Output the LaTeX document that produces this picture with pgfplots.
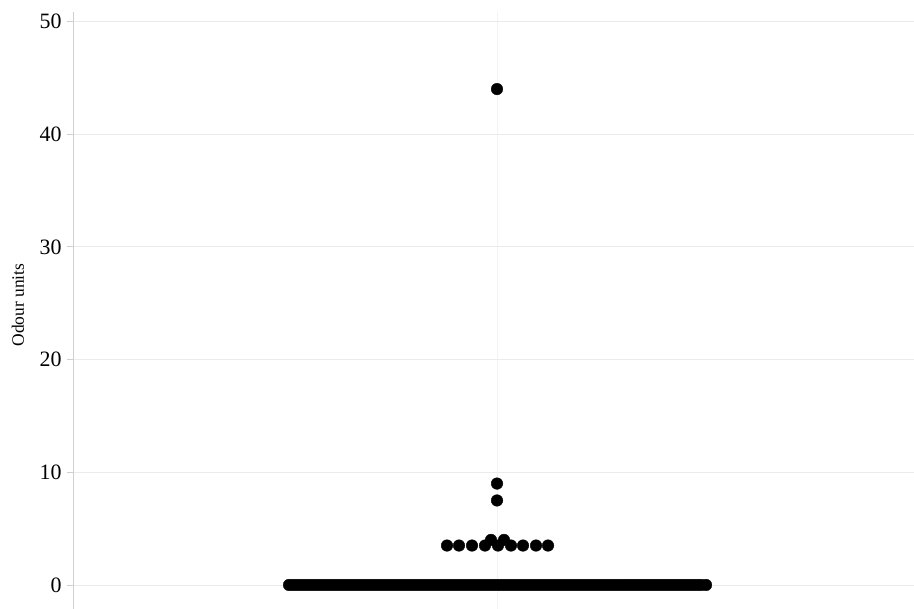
\documentclass[border=0pt]{standalone}
\usepackage{fontspec}
\setmainfont{Liberation Serif}
\usepackage{pgfplots}
\pgfplotsset{compat=1.18}
\definecolor{gridc}{HTML}{EBEBEB}
\definecolor{vgridc}{HTML}{F3F3F3}
\definecolor{axc}{HTML}{D0D0D0}
\begin{document}
\begin{tikzpicture}[x=1bp,y=1bp]
\useasboundingbox (-73,0) rectangle (841,609);
\begin{axis}[
  at={(0,0)}, anchor=south west,
  scale only axis,
  width=841bp, height=597bp,
  xmin=-424, xmax=417,
  ymin=-2.13, ymax=50.84,
  axis x line*=bottom, axis y line*=left,
  x axis line style={draw=none},
  y axis line style={draw=axc, line width=0.8bp},
  xtick={0}, xticklabels={}, x tick style={draw=none},
  xmajorgrids, ymajorgrids,
  grid style={draw=gridc, line width=0.8bp},
  x grid style={draw=vgridc, line width=0.8bp},
  ytick={0,10,20,30,40,50},
  tick align=outside,
  y tick style={draw=axc, line width=0.8bp},
  major tick length=6bp,
  /pgf/number format/assume math mode=true,
  yticklabel style={font=\fontsize{22}{22}\selectfont, anchor=east, xshift=-2bp},
  ylabel={Odour units},
  ylabel style={at={(axis description cs:-0.0654,0.509)}, anchor=center, font=\fontsize{17.5}{17.5}\selectfont},
  clip=false,
]
\addplot[only marks, mark=*, mark size=5.8bp, mark options={fill=black, draw=black}, black] coordinates {
(-208,0)(-204,0)(-200,0)(-196,0)(-192,0)(-188,0)(-184,0)(-180,0)(-176,0)(-172,0)
(-168,0)(-164,0)(-160,0)(-156,0)(-152,0)(-148,0)(-144,0)(-140,0)(-136,0)(-132,0)
(-128,0)(-124,0)(-120,0)(-116,0)(-112,0)(-108,0)(-104,0)(-100,0)(-96,0)(-92,0)
(-88,0)(-84,0)(-80,0)(-76,0)(-72,0)(-68,0)(-64,0)(-60,0)(-56,0)(-52,0)
(-48,0)(-44,0)(-40,0)(-36,0)(-32,0)(-28,0)(-24,0)(-20,0)(-16,0)(-12,0)
(-8,0)(-4,0)(0,0)(4,0)(8,0)(12,0)(16,0)(20,0)(24,0)(28,0)
(32,0)(36,0)(40,0)(44,0)(48,0)(52,0)(56,0)(60,0)(64,0)(68,0)
(72,0)(76,0)(80,0)(84,0)(88,0)(92,0)(96,0)(100,0)(104,0)(108,0)
(112,0)(116,0)(120,0)(124,0)(128,0)(132,0)(136,0)(140,0)(144,0)(148,0)
(152,0)(156,0)(160,0)(164,0)(168,0)(172,0)(176,0)(180,0)(184,0)(188,0)
(192,0)(196,0)(200,0)(204,0)(209,0)
(-50,3.5)(-38,3.5)(-25,3.5)(-12,3.5)(1,3.5)(14,3.5)(26,3.5)(39,3.5)(51,3.5)
(-6,4.0)(7,4.0)
(0,7.5)(0,9)(0,44)
};
\end{axis}
\end{tikzpicture}
\end{document}
